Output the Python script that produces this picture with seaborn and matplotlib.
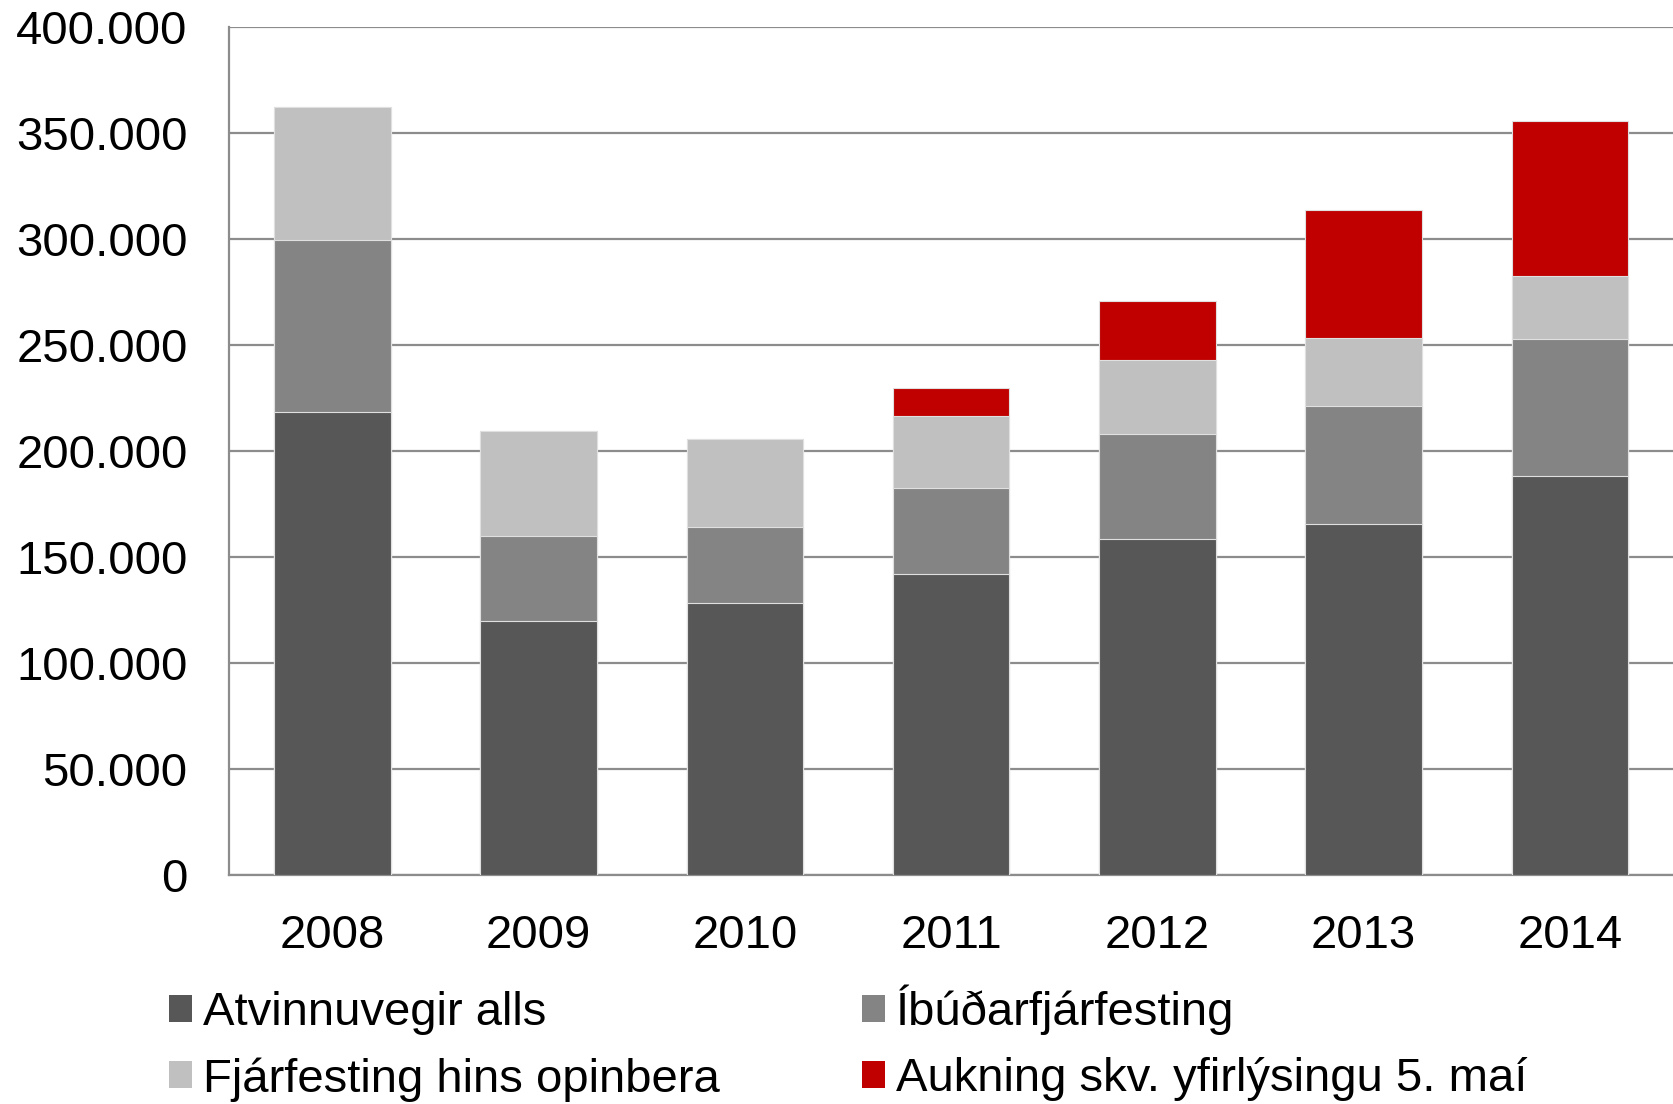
import matplotlib
matplotlib.use("Agg")
import matplotlib.pyplot as plt
import matplotlib.ticker as mticker
from matplotlib.patches import Patch
import seaborn as sns
import numpy as np

# Gögn (lesin af myndinni)
ar = ["2008", "2009", "2010", "2011", "2012", "2013", "2014"]
atvinnuvegir = [218400, 119700, 128300, 141900, 158500, 165500, 188200]
ibudir = [81000, 40300, 35700, 40700, 49300, 55400, 64400]
opinbera = [62900, 49300, 41800, 33800, 35200, 32200, 29700]
aukning = [0, 0, 0, 13000, 27700, 60400, 73400]

heiti = ["Atvinnuvegir alls", "Íbúðarfjárfesting",
         "Fjárfesting hins opinbera", "Aukning skv. yfirlýsingu 5. maí"]
litir = ["#575757", "#848484", "#c0c0c0", "#c00000"]

sns.set_style("white")
plt.rcParams['font.family'] = ['Liberation Sans', 'DejaVu Sans']
plt.rcParams['text.color'] = 'black'
plt.rcParams['xtick.color'] = 'black'
plt.rcParams['ytick.color'] = 'black'

fs = 34

fig = plt.figure(figsize=(16.73, 11.04), dpi=100)
ax = fig.add_axes([0.137, 0.2074, 0.863, 0.7685])

# Uppsafnaðar summur, teiknað ofan frá og niður
lag1 = np.array(atvinnuvegir)
lag2 = lag1 + np.array(ibudir)
lag3 = lag2 + np.array(opinbera)
lag4 = lag3 + np.array(aukning)

for gildi, litur in zip([lag4, lag3, lag2, lag1], litir[::-1]):
    sns.barplot(x=ar, y=gildi, color=litur, width=0.565, ax=ax,
                edgecolor="#e0e0e0", linewidth=0.8, saturation=1, zorder=3)

ax.set_ylim(0, 400000)
ax.set_xlim(-0.5, 6.5)
ax.set_yticks(np.arange(0, 400001, 50000))
ax.yaxis.set_major_formatter(mticker.FuncFormatter(lambda v, p: f"{int(v):,}".replace(",", ".")))
ax.grid(axis="y", color="#8c8c8c", linewidth=1.6, zorder=0)
ax.set_axisbelow(True)

for s in ["top", "right"]:
    ax.spines[s].set_visible(False)
for s in ["left", "bottom"]:
    ax.spines[s].set_color("#8c8c8c")
    ax.spines[s].set_linewidth(1.6)

ax.tick_params(axis="y", length=0, pad=30, labelsize=fs)
ax.tick_params(axis="x", length=0, pad=28, labelsize=fs)
ax.set_xlabel("")
ax.set_ylabel("")

handles = [Patch(facecolor=c, edgecolor="none") for c in litir]
order = [0, 2, 1, 3]
fig.legend([handles[i] for i in order], [heiti[i] for i in order],
           loc="center left", bbox_to_anchor=(0.1008, 0.0553), ncol=2,
           frameon=False, fontsize=fs, handlelength=0.5, handleheight=0.5,
           handletextpad=0.23, columnspacing=3.0, labelspacing=0.47,
           borderpad=0, borderaxespad=0)

fig.savefig("out.png", dpi=100)
